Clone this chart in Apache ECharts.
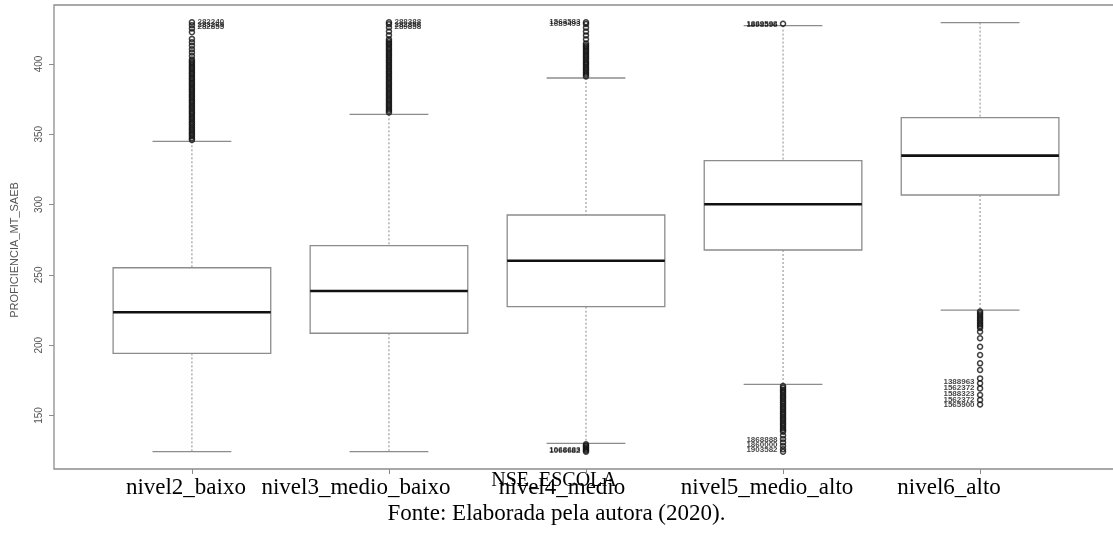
<!DOCTYPE html>
<html>
<head>
<meta charset="utf-8">
<script src="https://cdn.jsdelivr.net/npm/echarts@6/dist/echarts.min.js"></script>
<style>
  html, body { margin: 0; padding: 0; background: #fff; }
  #chart { width: 1113px; height: 539px; }
</style>
</head>
<body>
<div id="chart"></div>
<script>
// School socioeconomic level (NSE_ESCOLA) groups
const categories = ['nivel2_baixo', 'nivel3_medio_baixo', 'nivel4_medio', 'nivel5_medio_alto', 'nivel6_alto'];

// Box statistics of PROFICIENCIA_MT_SAEB per group
const lowerWhisker = [124.3, 124.3, 130.2, 172.2, 225.0];
const q1 = [194.2, 208.5, 227.4, 267.7, 306.8];
const median = [223.4, 238.5, 260.1, 300.2, 334.8];
const q3 = [255.1, 270.8, 292.6, 331.2, 361.8];
const upperWhisker = [345.0, 364.2, 390.0, 427.3, 429.4];

// Outlying scores per group
const outliersNivel2 = [346.0, 347.2, 348.6, 349.9, 351.1, 352.5, 353.8, 355.0, 356.4, 357.7, 358.9, 360.3, 361.6,
  362.8, 364.2, 365.5, 366.7, 368.1, 369.4, 370.6, 372.0, 373.3, 374.5, 375.9, 377.2, 378.4, 379.8, 381.1, 382.3,
  383.7, 385.0, 386.2, 387.6, 388.9, 390.1, 391.5, 392.8, 394.0, 395.4, 396.7, 397.9, 399.3, 400.6, 401.8, 403.2,
  405.6, 408.1, 410.5, 413.0, 415.4, 417.8, 422.6, 425.2, 427.6, 429.7];
const outliersNivel3 = [365.5, 366.8, 368.0, 369.4, 370.7, 371.9, 373.3, 374.6, 375.8, 377.2, 378.5, 379.7, 381.1,
  382.4, 383.6, 385.0, 386.3, 387.5, 388.9, 390.2, 391.4, 392.8, 394.1, 395.3, 396.7, 398.0, 399.2, 400.6, 401.9,
  403.1, 404.5, 405.8, 407.0, 408.4, 409.7, 410.9, 412.3, 413.6, 414.8, 416.2, 417.5,
  420.4, 423.1, 425.9, 428.3, 429.7];
const outliersNivel4 = [124.2, 125.1, 126.0, 126.9, 127.8, 128.7, 129.6,
  391.2, 392.5, 393.7, 395.1, 396.4, 397.6, 399.0, 400.3, 401.5, 402.9, 404.2, 405.4, 406.8, 408.1, 409.3, 410.7,
  412.0, 413.2, 414.6, 417.6, 420.3, 423.0, 425.8, 428.4, 429.7];
const outliersNivel5 = [124.3, 126.0, 128.4, 130.9, 133.3, 135.8,
  138.5, 139.8, 141.0, 142.4, 143.7, 144.9, 146.3, 147.6, 148.8, 150.2, 151.5, 152.7, 154.1, 155.4, 156.6, 158.0,
  159.3, 160.5, 161.9, 163.2, 164.4, 165.8, 167.1, 168.3, 169.7, 171.0, 428.6];
const outliersNivel6 = [157.8, 161.0, 164.6, 169.3, 172.9, 176.4, 182.4, 187.1, 193.0, 198.9, 204.9, 209.6,
  212.3, 213.6, 214.9, 216.2, 217.5, 218.8, 220.1, 221.4, 222.7, 224.0];

// Row identifiers printed next to extreme points: [group, score, id]
const idsRight = [
  [1, 429.7, '282240'], [1, 428.0, '283269'], [1, 426.4, '282855'],
  [2, 429.7, '288388'], [2, 428.0, '282856'], [2, 426.4, '289858']
];
const idsLeft = [
  [3, 429.7, '1563583'], [3, 428.2, '1685493'],
  [4, 428.6, '1889598'], [4, 428.0, '1898596'],
  [3, 124.6, '1066682'], [3, 125.4, '1068683'],
  [4, 132.6, '1868888'], [4, 129.0, '1860000'], [4, 125.5, '1903582'],
  [5, 173.8, '1388963'], [5, 169.6, '1562372'], [5, 165.3, '1588323'], [5, 161.0, '1562372'], [5, 157.5, '1565900']
];

const yTicks = [150, 200, 250, 300, 350, 400];

// ---- derived values ----
const n = categories.length;
const positions = categories.map((c, i) => i + 1);
const outlierGroups = [outliersNivel2, outliersNivel3, outliersNivel4, outliersNivel5, outliersNivel6];

const boxData = categories.map((c, i) => [i + 1, lowerWhisker[i], q1[i], median[i], q3[i], upperWhisker[i]]);
const outlierData = [];
outlierGroups.forEach((arr, i) => arr.forEach(v => outlierData.push([i + 1, v])));

// axis ranges padded by 4% like base graphics
const allValues = lowerWhisker.concat(upperWhisker, ...outlierGroups);
const dataLo = Math.min(...allValues);
const dataHi = Math.max(...allValues);
const yPad = (dataHi - dataLo) * 0.04;
const yMin = dataLo - yPad;
const yMax = dataHi + yPad;
const xMin = 0.5 - 0.04 * n;
const xMax = n + 0.5 + 0.04 * n;

const BOX_HALF = 0.4;   // box half-width in group units
const CAP_HALF = 0.2;   // whisker cap half-width
const FRAME = '#8c8c8c';

// horizontal nudges (px, leftwards) for the serif group labels
const labelNudge = [6, 33, 24, 16, 31];
const rich = {};
labelNudge.forEach((d, i) => { rich['g' + i] = { padding: [0, 2 * d, 0, 0] }; });

function renderBox(params, api) {
  const x = api.value(0);
  const lo = api.value(1), b1 = api.value(2), md = api.value(3), b3 = api.value(4), hi = api.value(5);
  const tl = api.coord([x - BOX_HALF, b3]);
  const br = api.coord([x + BOX_HALF, b1]);
  const cHi = api.coord([x, hi]), cQ3 = api.coord([x, b3]), cQ1 = api.coord([x, b1]), cLo = api.coord([x, lo]);
  const capL = api.coord([x - CAP_HALF, hi])[0];
  const capR = api.coord([x + CAP_HALF, hi])[0];
  const mL = api.coord([x - BOX_HALF, md]);
  const mR = api.coord([x + BOX_HALF, md]);
  const dashed = { stroke: '#8a8a8a', lineWidth: 1, lineDash: [2, 2] };
  const solid = { stroke: FRAME, lineWidth: 1.3 };
  return {
    type: 'group',
    children: [
      { type: 'line', shape: { x1: cHi[0], y1: cHi[1], x2: cQ3[0], y2: cQ3[1] }, style: dashed },
      { type: 'line', shape: { x1: cQ1[0], y1: cQ1[1], x2: cLo[0], y2: cLo[1] }, style: dashed },
      { type: 'line', shape: { x1: capL, y1: cHi[1], x2: capR, y2: cHi[1] }, style: solid },
      { type: 'line', shape: { x1: capL, y1: cLo[1], x2: capR, y2: cLo[1] }, style: solid },
      { type: 'rect', shape: { x: tl[0], y: tl[1], width: br[0] - tl[0], height: br[1] - tl[1] },
        style: { fill: '#fff', stroke: FRAME, lineWidth: 1.3 } },
      { type: 'line', shape: { x1: mL[0], y1: mL[1], x2: mR[0], y2: mR[1] },
        style: { stroke: '#111', lineWidth: 2.6 } }
    ]
  };
}

const idLabelSeries = (data, side) => ({
  type: 'scatter',
  data: data,
  symbol: 'circle',
  symbolSize: 5,
  itemStyle: { color: 'rgba(0,0,0,0)', borderWidth: 0 },
  silent: true,
  z: 5,
  label: {
    show: true,
    position: side,
    distance: 3,
    formatter: p => p.value[2],
    fontFamily: 'Liberation Sans',
    fontSize: 8,
    fontWeight: 'bold',
    color: '#111'
  }
});

const chart = echarts.init(document.getElementById('chart'), null, { renderer: 'canvas' });
chart.setOption({
  animation: false,
  backgroundColor: '#fff',
  grid: {
    left: 54, top: 5, width: 1064, bottom: 70,
    outerBoundsMode: 'none',
    containLabel: false,
    show: true, borderColor: FRAME, borderWidth: 1.3, backgroundColor: '#fff'
  },
  xAxis: {
    type: 'value',
    min: xMin,
    max: xMax,
    splitLine: { show: false },
    axisLine: { show: false },
    axisTick: { show: true, customValues: positions, length: 5, lineStyle: { color: FRAME, width: 1 } },
    axisLabel: {
      customValues: positions,
      margin: 7,
      fontFamily: 'Liberation Serif',
      fontSize: 23,
      color: '#000',
      formatter: v => '{g' + (v - 1) + '|' + categories[v - 1] + '}',
      rich: rich
    },
    name: 'NSE_ESCOLA',
    nameLocation: 'middle',
    nameGap: 2,
    nameMoveOverlap: false,
    nameTextStyle: {
      fontFamily: 'Liberation Serif', fontSize: 20, color: '#000',
      padding: [0, 64, 0, 0]
    }
  },
  yAxis: {
    type: 'value',
    min: yMin,
    max: yMax,
    splitLine: { show: false },
    axisLine: { show: false },
    axisTick: { show: true, customValues: yTicks, length: 5, lineStyle: { color: FRAME, width: 1 } },
    axisLabel: {
      customValues: yTicks,
      rotate: 90,
      margin: 10,
      fontFamily: 'Liberation Sans',
      fontSize: 10,
      color: '#555'
    },
    name: 'PROFICIENCIA_MT_SAEB',
    nameLocation: 'middle',
    nameRotate: 90,
    nameGap: 34,
    nameMoveOverlap: false,
    nameTextStyle: { fontFamily: 'Liberation Sans', fontSize: 11, color: '#555', padding: [0, 26, 0, 0] }
  },
  series: [
    {
      type: 'custom',
      renderItem: renderBox,
      data: boxData,
      encode: { x: 0, y: [1, 2, 3, 4, 5] },
      z: 2
    },
    {
      type: 'scatter',
      data: outlierData,
      symbol: 'circle',
      symbolSize: 5,
      itemStyle: { color: 'rgba(0,0,0,0)', borderColor: '#111', borderWidth: 1.5 },
      z: 3
    },
    idLabelSeries(idsRight, 'right'),
    idLabelSeries(idsLeft, 'left')
  ],
  graphic: [{
    type: 'text',
    left: 'center',
    top: 502,
    style: {
      text: 'Fonte: Elaborada pela autora (2020).',
      font: '23px "Liberation Serif"',
      fill: '#000'
    }
  }]
});
</script>
</body>
</html>
